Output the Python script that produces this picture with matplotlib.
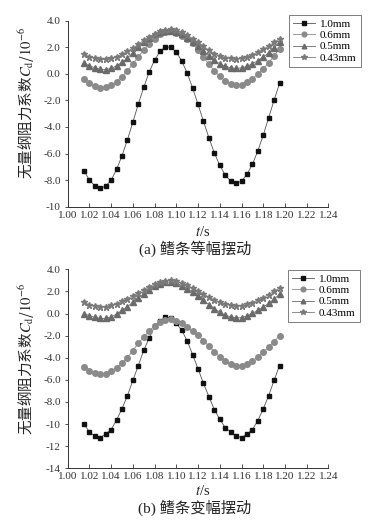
import matplotlib
matplotlib.use("Agg")
import matplotlib.pyplot as plt
from matplotlib.ticker import FuncFormatter, MultipleLocator

plt.rcParams['font.family'] = ['Liberation Serif', 'Noto Sans CJK SC', 'DejaVu Sans']
plt.rcParams['mathtext.fontset'] = 'stix'
plt.rcParams['axes.unicode_minus'] = False

t = [1.015 + 0.005 * i for i in range(37)]

labels = ['1.0mm', '0.6mm', '0.5mm', '0.43mm']

# (a) constant amplitude
a_10 = [-7.29, -8.00, -8.42, -8.62, -8.44, -8.00, -7.19, -6.16, -4.96, -3.63,
        -2.27, -1.02, 0.14, 1.04, 1.69, 2.04, 1.99, 1.64, 0.96, 0.06,
        -1.07, -2.30, -3.58, -4.81, -5.96, -6.89, -7.62, -8.07, -8.24, -8.07,
        -7.57, -6.81, -5.81, -4.61, -3.30, -1.97, -0.72]
a_06 = [-0.37, -0.72, -0.94, -1.04, -1.02, -0.84, -0.59, -0.21, 0.24, 0.74,
        1.29, 1.79, 2.27, 2.65, 2.97, 3.15, 3.20, 3.10, 2.87, 2.60,
        2.30, 1.77, 1.24, 0.71, 0.24, -0.19, -0.52, -0.74, -0.87, -0.82,
        -0.64, -0.37, -0.01, 0.36, 0.81, 1.37, 1.89]
a_05 = [0.81, 0.61, 0.46, 0.34, 0.31, 0.41, 0.61, 0.86, 1.19, 1.59,
        1.99, 2.39, 2.72, 3.00, 3.17, 3.25, 3.25, 3.15, 2.97, 2.72,
        2.42, 2.07, 1.69, 1.34, 1.01, 0.76, 0.56, 0.46, 0.41, 0.44,
        0.56, 0.76, 0.99, 1.27, 1.59, 1.97, 2.39]
a_043 = [1.47, 1.29, 1.17, 1.09, 1.09, 1.17, 1.29, 1.47, 1.69, 1.94,
         2.22, 2.52, 2.77, 3.02, 3.20, 3.32, 3.35, 3.27, 3.12, 2.92,
         2.65, 2.37, 2.07, 1.77, 1.52, 1.34, 1.22, 1.17, 1.14, 1.19,
         1.29, 1.44, 1.62, 1.84, 2.09, 2.37, 2.65]

# (b) variable amplitude
b_10 = [-9.99, -10.71, -11.10, -11.22, -10.89, -10.50, -9.63, -8.60, -7.43, -6.04,
        -4.71, -3.33, -2.21, -1.16, -0.67, -0.34, -0.37, -0.88, -1.52, -2.48,
        -3.72, -5.01, -6.31, -7.52, -8.69, -9.57, -10.32, -10.71, -11.07, -11.22,
        -10.89, -10.50, -9.69, -8.63, -7.43, -6.04, -4.71]
b_06 = [-4.80, -5.19, -5.41, -5.50, -5.44, -5.23, -4.89, -4.50, -3.99, -3.36,
        -2.69, -2.12, -1.58, -1.09, -0.73, -0.55, -0.49, -0.64, -0.88, -1.19,
        -1.58, -1.97, -2.45, -2.96, -3.45, -3.93, -4.29, -4.59, -4.74, -4.74,
        -4.59, -4.29, -3.93, -3.51, -3.02, -2.54, -2.00]
b_05 = [0.00, -0.20, -0.35, -0.45, -0.45, -0.30, -0.05, 0.28, 0.62, 1.00,
        1.40, 1.77, 2.13, 2.46, 2.67, 2.82, 2.85, 2.73, 2.52, 2.25,
        1.92, 1.56, 1.20, 0.80, 0.45, 0.12, -0.15, -0.30, -0.40, -0.38,
        -0.22, 0.02, 0.28, 0.58, 0.92, 1.30, 1.75]
b_043 = [1.02, 0.77, 0.65, 0.59, 0.62, 0.74, 0.89, 1.11, 1.35, 1.59,
         1.89, 2.16, 2.43, 2.67, 2.85, 2.97, 3.00, 2.91, 2.76, 2.55,
         2.31, 2.04, 1.77, 1.47, 1.23, 1.02, 0.83, 0.74, 0.68, 0.71,
         0.83, 0.98, 1.20, 1.44, 1.71, 2.01, 2.31]

x_ticks = [1.00 + 0.02 * i for i in range(13)]
x_ticklabels = ['%.2f' % v for v in x_ticks]

styles = [
    dict(marker='s', color='#555555', mfc='#111111', mec='#111111', ms=3.4),
    dict(marker='o', color='#8a8a8a', mfc='#8a8a8a', mec='#8a8a8a', ms=4.0),
    dict(marker='^', color='#6a6a6a', mfc='#6a6a6a', mec='#6a6a6a', ms=3.9),
    dict(marker='*', color='#7a7a7a', mfc='#7a7a7a', mec='#7a7a7a', ms=4.6),
]

W, H = 373, 523
fig = plt.figure(figsize=(W / 100, H / 100), dpi=100)
fig.patch.set_facecolor('white')

def fmt(v, pos):
    if abs(v) >= 9.99:
        return '%d' % round(v)
    return '%.1f' % v

def make_panel(rect, series, ylim, legend_anchor, caption, ylab_y, xlab_y, cap_y):
    ax = fig.add_axes(rect)
    for s, lab, st in zip(series, labels, styles):
        ax.plot(t, s, lw=0.6, label=lab, **st)
    ax.set_xlim(1.00, 1.24)
    ax.set_ylim(*ylim)
    ax.set_xticks(x_ticks)
    ax.set_xticklabels(x_ticklabels)
    ax.yaxis.set_major_locator(MultipleLocator(2))
    ax.yaxis.set_major_formatter(FuncFormatter(fmt))
    for sp in ['top', 'right']:
        ax.spines[sp].set_visible(False)
    for sp in ['left', 'bottom']:
        ax.spines[sp].set_color('#333333')
        ax.spines[sp].set_linewidth(0.7)
    ax.tick_params(axis='x', direction='in', length=3, width=0.6, labelsize=8,
                   colors='#333333', pad=3)
    ax.tick_params(axis='y', direction='out', length=2.5, width=0.6, labelsize=8,
                   colors='#333333', pad=2.5)
    leg = ax.legend(loc='upper right', bbox_to_anchor=legend_anchor,
                    bbox_transform=fig.transFigure, fontsize=8, frameon=True,
                    fancybox=False, edgecolor='#444444', borderpad=0.4,
                    labelspacing=0.12, handlelength=2.0, handletextpad=0.4,
                    borderaxespad=0, markerscale=0.85)
    leg.get_frame().set_linewidth(0.6)
    fig.text(27 / W, 1 - ylab_y / H,
             '无量纲阻力系数$C_{\\mathrm{d}}$/$10^{-6}$',
             rotation=90, ha='center', va='center', fontsize=10.5,
             color='#222222', family=['Noto Sans CJK SC', 'DejaVu Sans'])
    fig.text(203 / W, 1 - xlab_y / H, '$t$/s', ha='center', va='center',
             fontsize=10.5, color='#222222')
    fig.text(195 / W, 1 - cap_y / H, caption, ha='center', va='center',
             fontsize=11, color='#222222',
             family=['Liberation Serif', 'Noto Sans CJK SC'])
    return ax

make_panel([0.1815, 0.6048, 0.699, 0.3556], [a_10, a_06, a_05, a_043], (-10, 4),
           (361 / W, 1 - 15 / H), '(a) 鳍条等幅摆动', 103, 232, 249)
make_panel([0.1815, 0.1046, 0.699, 0.3805], [b_10, b_06, b_05, b_043], (-14, 4),
           (360 / W, 1 - 270 / H), '(b) 鳍条变幅摆动', 359, 491, 508)

fig.savefig('out.png', dpi=100, facecolor='white')
